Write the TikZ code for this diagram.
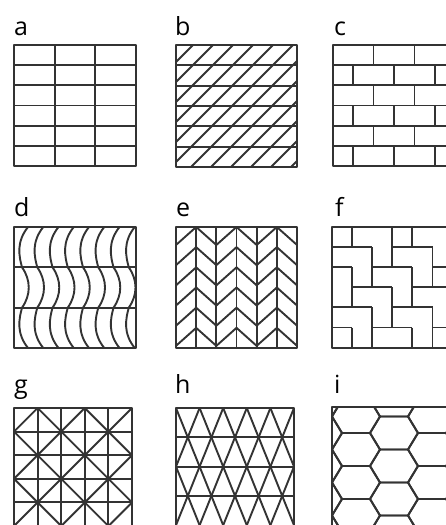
\documentclass[tikz,border=0pt]{standalone}
\usepackage{fontspec}
\setmainfont{Open Sans}
\begin{document}
\begin{tikzpicture}[
    x=1pt, y=-1pt,
    tile/.style={draw=black!80,line width=1.9pt,line join=round},
    letter/.style={anchor=base west,inner sep=0pt,font=\fontsize{25}{25}\selectfont}
]
\useasboundingbox[fill=white] (0,0) rectangle (446,525);
\clip (0,0) rectangle (446,525);

\node[letter] (a) at (14,35) {a};
\node[letter] (b) at (175,35) {b};
\node[letter] (c) at (334,35) {c};
\node[letter] (d) at (14,216) {d};
\node[letter] (e) at (176,216) {e};
\node[letter] (f) at (335,216) {f};
\node[letter] (g) at (14,393) {g};
\node[letter] (h) at (175,393) {h};
\node[letter] (i) at (334,393) {i};

% a
\foreach \x in {54.7,95.3} \draw[tile] (\x,45) -- (\x,166);
\foreach \k in {1,...,5} \draw[tile] (14,{45+20.17*\k}) -- (136,{45+20.17*\k});
\draw[tile] (14,45) rectangle (136,166);

% b
\begin{scope}
\clip (176,45) rectangle (297,167);
\foreach \s in {218,238,...,478} \draw[tile] ({\s-170},170) -- ({\s-40},40);
\foreach \k in {1,...,5} \draw[tile] (176,{45+20.33*\k}) -- (297,{45+20.33*\k});
\end{scope}
\draw[tile] (176,45) rectangle (297,167);

% c
\foreach \k in {1,...,5} \draw[tile] (333,{45+20.17*\k}) -- (480,{45+20.17*\k});
\foreach \r in {0,2,4} \foreach \x in {373.5,414.5}
    \draw[tile] (\x,{45+20.17*\r}) -- (\x,{45+20.17*(\r+1)});
\foreach \r in {1,3,5} \foreach \x in {353,394,435}
    \draw[tile] (\x,{45+20.17*\r}) -- (\x,{45+20.17*(\r+1)});
\draw[tile] (333,45) rectangle (480,166);

% d
\begin{scope}
\clip (14,227) rectangle (136,348);
\foreach \k in {0,...,7} {
    \pgfmathsetmacro\bx{22+15.25*\k}
    \draw[tile] ({\bx+6},227) .. controls ({\bx-6},242) and ({\bx-3},256) .. (\bx,267.3)
        .. controls ({\bx+9},280) and ({\bx+9},295) .. (\bx,307.7)
        .. controls ({\bx-3},319) and ({\bx-6},333) .. ({\bx+6},348);
}
\foreach \y in {267.3,307.7} \draw[tile] (14,\y) -- (136,\y);
\end{scope}
\draw[tile] (14,227) rectangle (136,348);

% e
\begin{scope}
\clip (176,227) rectangle (297,348);
\foreach \m in {-1,...,6} {
    \foreach \c in {0,2,4}
        \draw[tile] ({176+20.17*\c},{245+20.17*\m}) -- ({176+20.17*(\c+1)},{227+20.17*\m});
    \foreach \c in {1,3,5}
        \draw[tile] ({176+20.17*\c},{227+20.17*\m}) -- ({176+20.17*(\c+1)},{245+20.17*\m});
}
\foreach \k in {1,...,5} \draw[tile] ({176+20.17*\k},227) -- ({176+20.17*\k},348);
\end{scope}
\draw[tile] (176,227) rectangle (297,348);

% f
\begin{scope}[shift={(332,227)},x=20.1pt,y=-20.1pt]
\foreach \r in {0,3} {
    \foreach \x in {1,3,4,6} \draw[tile] (\x,\r) -- (\x,\r+1);
    \foreach \x in {2,3,5,6} \draw[tile] (\x,\r+1) -- (\x,\r+2);
    \foreach \x in {1,2,4,5} \draw[tile] (\x,\r+2) -- (\x,\r+3);
    \foreach \x in {0,3,6} \draw[tile] (\x,\r+1) -- (\x+2,\r+1);
    \foreach \x in {-1,2,5} \draw[tile] ({max(\x,0)},\r+2) -- (\x+2,\r+2);
}
\foreach \x in {1,4} \draw[tile] (\x,3) -- (\x+2,3);
\draw[tile] (0,0) rectangle (8,6);
\end{scope}

% g
\begin{scope}[shift={(14,408)},x=23.6pt,y=-23.6pt]
\begin{scope}
\clip (0,0) rectangle (5,5);
\foreach \s in {1,3,...,9} \draw[tile] (\s+1,-1) -- (-1,\s+1);
\foreach \s in {-5,-3,...,5} \draw[tile] (\s-1,-1) -- (\s+7,7);
\foreach \k in {1,...,4} {
    \draw[tile] (\k,0) -- (\k,5);
    \draw[tile] (0,\k) -- (5,\k);
}
\end{scope}
\draw[tile] (0,0) rectangle (5,5.05);
\end{scope}

% h
\begin{scope}[shift={(176,408)},x=11.8pt,y=-29.3pt]
\begin{scope}
\clip (0,0) rectangle (10,4.2);
\foreach \s in {2,4,...,16} \draw[tile] (\s+1,-1) -- (-1,\s+1);
\foreach \s in {-8,-6,...,10} \draw[tile] (\s-1,-1) -- (\s+7,7);
\foreach \k in {1,...,3} \draw[tile] (0,\k) -- (10,\k);
\end{scope}
\draw[tile] (0,0) rectangle (10,4.2);
\end{scope}

% i
\begin{scope}
\clip (332,407) rectangle (480,530);
\foreach \c in {-1,...,2} \foreach \n in {-1,...,4} {
    \pgfmathsetmacro\hx{356+38*\c}
    \pgfmathsetmacro\hy{416.5+33*\n+16.5*mod(\c+2,2)}
    \draw[tile,shift={(\hx,\hy)}] (-24,0) -- (-14,-16.5) -- (14,-16.5) -- (24,0)
        -- (14,16.5) -- (-14,16.5) -- cycle;
}
\end{scope}
\draw[tile] (332,407) rectangle (480,530);
\end{tikzpicture}
\end{document}
